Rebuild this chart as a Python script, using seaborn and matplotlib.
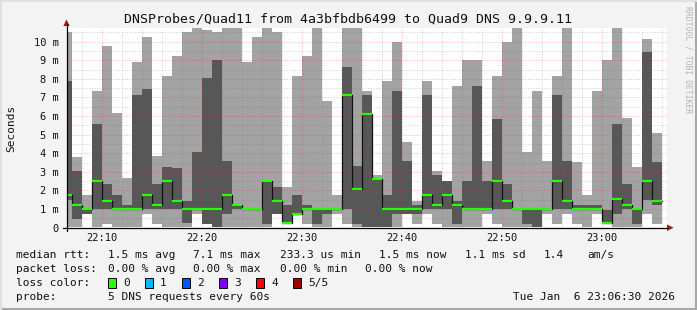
import matplotlib
matplotlib.use("Agg")
import numpy as np
import pandas as pd
import seaborn as sns
import matplotlib.pyplot as plt
from matplotlib.patches import Rectangle, Polygon
from matplotlib.lines import Line2D

# ---------------- data (minutes after 22:00, values in ms) ----------------
minute_start = [6.5] + list(range(7, 66))
minute_end = list(range(7, 67))

ping_min = [0.05, 0.05, 0.73, 0.05, 0.2, 0.05, 0.05, 0.05, 0.73, 0.2,
            0.05, 0.05, 0.05, 0.73, 0.2, 0.05, 0.05, 0.05, 0.05, 0.05,
            0.05, 0.73, 0.23, 0.73, 0.2, 0.05, 0.05, 0.73, 0.2, 0.05,
            0.05, 0.05, 0.05, 0.05, 0.73, 0.2, 0.73, 0.2, 0.05, 0.05,
            0.05, 0.05, 0.73, 0.2, 0.05, 0.05, 0.05, 0.05, 0.73, 0.2,
            0.73, 0.2, 0.05, 0.73, 0.2, 0.05, 0.05, 0.05, 0.73, 0.2]
ping_lo = [1.5, 0.45, 0.73, 1.0, 1.0, 1.0, 1.0, 1.0, 1.0, 1.0,
           1.0, 1.0, 0.24, 1.0, 0.2, 0.05, 0.73, 1.0, 1.0, 1.0,
           0.2, 0.73, 0.23, 0.73, 1.0, 0.2, 0.73, 1.0, 1.0, 0.2,
           0.05, 0.05, 0.05, 0.73, 0.73, 0.73, 1.0, 1.0, 1.0, 0.2,
           1.0, 1.0, 1.0, 1.0, 1.0, 1.0, 0.2, 0.05, 1.0, 1.0,
           1.0, 1.0, 1.0, 1.0, 0.2, 0.73, 1.0, 0.2, 1.49, 1.22]
median = [1.76, 1.22, 1.0, 2.53, 1.45, 1.0, 1.0, 1.0, 1.76, 1.22,
          2.53, 1.45, 1.0, 1.0, 1.0, 1.0, 1.76, 1.22, 1.0, 1.0,
          2.53, 1.45, 0.23, 0.73, 1.0, 1.0, 1.0, 1.0, 7.13, 2.08,
          6.11, 2.62, 1.0, 1.0, 1.0, 1.0, 1.76, 1.22, 1.76, 1.22,
          1.0, 1.0, 1.0, 2.53, 1.45, 1.0, 1.0, 1.0, 1.0, 2.53,
          1.45, 1.0, 1.0, 1.0, 0.23, 1.54, 1.22, 1.0, 2.53, 1.45]
ping_hi = [7.9, 3.05, 1.0, 5.57, 2.35, 1.76, 1.22, 7.13, 7.46, 2.35,
           3.26, 3.2, 1.45, 4.07, 8.05, 9.0, 3.58, 1.22, 1.0, 1.0,
           2.53, 2.19, 1.22, 1.76, 1.22, 1.0, 1.0, 1.0, 8.64, 3.3,
           7.13, 2.62, 1.76, 7.35, 3.58, 1.22, 7.13, 2.83, 2.51, 1.43,
           2.51, 7.62, 2.53, 5.84, 2.35, 1.0, 1.0, 1.0, 1.0, 7.13,
           3.58, 1.22, 1.22, 1.22, 0.95, 5.57, 2.35, 1.0, 9.44, 3.53]
ping_max = [10.5, 3.8, 1.76, 7.35, 9.77, 6.16, 2.67, 8.9, 10.25, 3.85,
            8.15, 9.23, 10.54, 10.72, 10.65, 10.54, 11.0, 11.0, 8.92, 10.25,
            11.0, 10.5, 2.19, 8.15, 9.23, 11.0, 6.81, 1.76, 11.0, 11.0,
            7.35, 2.83, 7.89, 9.98, 4.6, 1.43, 7.89, 3.05, 2.51, 7.62,
            9.0, 9.0, 3.58, 8.15, 9.98, 11.0, 4.07, 7.35, 3.58, 8.15,
            11.0, 3.53, 1.76, 7.35, 9.0, 11.0, 5.9, 3.26, 10.14, 5.09]

y_ticks = [0, 1, 2, 3, 4, 5, 6, 7, 8, 9, 10]
y_labels = ["0", "1 m", "2 m", "3 m", "4 m", "5 m", "6 m", "7 m", "8 m", "9 m", "10 m"]
x_ticks = [10, 20, 30, 40, 50, 60]
x_labels = ["22:10", "22:20", "22:30", "22:40", "22:50", "23:00"]

loss_labels = ["0", "1", "2", "3", "4", "5/5"]
loss_colors = ["#26ff00", "#00b8ff", "#0059ff", "#7e00ff", "#ff0000", "#a10000"]

title = "DNSProbes/Quad11 from 4a3bfbdb6499 to Quad9 DNS 9.9.9.11"

# ---------------- styling ----------------
sns.set_theme(style="white")
plt.rcParams["font.family"] = ["DejaVu Sans Mono", "DejaVu Sans"]

W, H = 697, 310
BG = "#f3f3f3"
fig = plt.figure(figsize=(W / 100, H / 100), dpi=100, facecolor=BG)

AX_L, AX_R, AX_T, AX_B = 66.5, 666.5, 27.7, 227.7
ax = fig.add_axes([AX_L / W, 1 - AX_B / H, (AX_R - AX_L) / W, (AX_B - AX_T) / H])
ax.set_facecolor("white")

df = pd.DataFrame({"start": minute_start, "end": minute_end, "min": ping_min,
                   "lo": ping_lo, "median": median, "hi": ping_hi, "max": ping_max})

edges = list(df["start"]) + [df["end"].iloc[-1]]
def ext(col):
    v = list(df[col])
    return v + [v[-1]]

# smoke
ax.fill_between(edges, ext("min"), ext("max"), step="post", color="#a3a3a3", lw=0, zorder=1)
ax.fill_between(edges, ext("lo"), ext("hi"), step="post", color="#575757", lw=0, zorder=2)

# grid (drawn over the smoke like rrdtool)
minor_c = (0.45, 0.45, 0.45, 0.32)
major_c = (1.0, 0.1, 0.1, 0.32)
for v in np.arange(0.5, 10.76, 0.5):
    is_major = abs(v - round(v)) < 1e-6
    ax.axhline(v, color=major_c if is_major else minor_c, lw=0.75,
               ls=(0, (1, 1.6)), zorder=3)
for m in range(8, 67, 2):
    is_major = m % 10 == 0
    ax.axvline(m, color=major_c if is_major else minor_c, lw=0.75,
               ls=(0, (1, 1.6)), zorder=3)

# median: black step line + green loss-colour segments
med_line = pd.DataFrame({"t": edges, "m": ext("median")})
sns.lineplot(data=med_line, x="t", y="m", drawstyle="steps-post", color="#111111",
             lw=0.9, ax=ax, zorder=4, estimator=None, sort=False, legend=False)
ax.hlines(df["median"], df["start"], df["end"], colors=loss_colors[0], lw=1.6, zorder=5)

ax.set_xlim(6.5, 66.5)
ax.set_ylim(0, 10.75)
for s in ax.spines.values():
    s.set_visible(False)
ax.set_xlabel("")
ax.set_ylabel("")
ax.set_xticks(x_ticks)
ax.set_xticklabels(x_labels)
ax.set_yticks(y_ticks)
ax.set_yticklabels(y_labels)
ax.tick_params(axis="both", length=2, width=0.7, color="black", direction="out",
               labelsize=7.5, labelcolor="#111111")
ax.tick_params(axis="y", pad=3.5)
ax.tick_params(axis="x", pad=2)
ax.grid(False)

# ---------------- axes lines and arrows (figure pixel coords) ----------------
def fx(x):
    return x / W
def fy(y):
    return 1 - y / H

fig.add_artist(Line2D([fx(63), fx(668)], [fy(AX_B), fy(AX_B)], color="black", lw=0.9))
fig.add_artist(Line2D([fx(AX_L), fx(AX_L)], [fy(231), fy(24)], color="black", lw=0.9))
fig.add_artist(Polygon([[fx(667), fy(224.5)], [fx(667), fy(231)], [fx(673.5), fy(AX_B)]],
                       closed=True, color="#a01818", lw=0))
fig.add_artist(Polygon([[fx(63.3), fy(26)], [fx(69.7), fy(26)], [fx(AX_L), fy(19.5)]],
                       closed=True, color="#a01818", lw=0))

# ---------------- texts ----------------
fig.text(fx(348), fy(19), title, ha="center", va="center", fontsize=9.5, color="#111111")
fig.text(fx(11), fy(128), "Seconds", rotation=90, ha="center", va="center",
         fontsize=8, color="#111111")
fig.text(fx(688), fy(60), "RRDTOOL / TOBI OETIKER", rotation=270, ha="center", va="center",
         fontsize=5.8, color="#b4b4b4")

FS = 8
TC = "#111111"
def line(x, y, s):
    fig.text(fx(x), fy(y), s, ha="left", va="baseline", fontsize=FS, color=TC)

row1 = [(16, "median rtt:"), (108, "1.5 ms avg"), (193, "7.1 ms max"), (280, "233.3 us min"),
        (379, "1.5 ms now"), (465, "1.1 ms sd"), (544, "1.4"), (587, "am/s")]
row2 = [(16, "packet loss:"), (108, "0.00 % avg"), (193, "0.00 % max"), (280, "0.00 % min"),
        (365, "0.00 % now")]
B1, B2, B3, B4 = 258, 272, 286, 300
for x, s in row1:
    line(x, B1, s)
for x, s in row2:
    line(x, B2, s)
line(16, B3, "loss color:")
box_x = [108, 145, 182, 219, 256, 293]
for bx, lab, col in zip(box_x, loss_labels, loss_colors):
    fig.add_artist(Rectangle((fx(bx), fy(287.5)), 8 / W, 10 / H, transform=fig.transFigure,
                             facecolor=col, edgecolor="black", lw=0.7))
    line(bx + 15, B3, lab)
line(16, B4, "probe:")
line(108, B4, "5 DNS requests every 60s")
line(513, B4, "Tue Jan  6 23:06:30 2026")

# frame around the picture
fig.add_artist(Line2D([0, 1], [fy(308.5), fy(308.5)], color="#a8a8a8", lw=2.2))
fig.add_artist(Line2D([fx(695.5), fx(695.5)], [0, 1], color="#a8a8a8", lw=2.2))
fig.add_artist(Line2D([0, 1], [fy(1), fy(1)], color="#e0e0e0", lw=1.5))
fig.add_artist(Line2D([fx(1), fx(1)], [0, 1], color="#e0e0e0", lw=1.5))

fig.savefig("out.png", dpi=100, facecolor=BG)
